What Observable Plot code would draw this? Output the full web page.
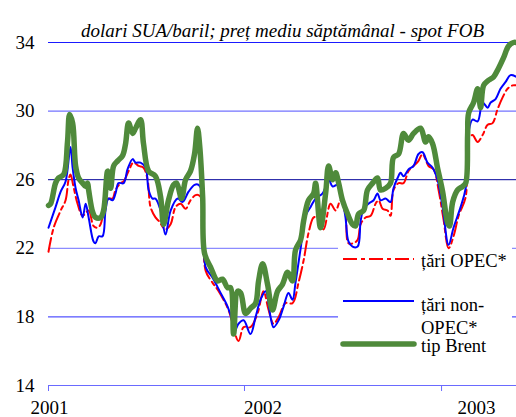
<!DOCTYPE html>
<html><head><meta charset="utf-8">
<script src="https://cdn.jsdelivr.net/npm/d3@7"></script>
<script src="https://cdn.jsdelivr.net/npm/@observablehq/plot@0.6"></script>
<style>
body{margin:0;background:#fff;}
#wrap{width:516px;height:417px;overflow:hidden;}
#wrap svg text{font-family:"Liberation Serif","Times New Roman",serif;}
</style></head><body><div id="wrap"></div>
<script>
const title = "dolari SUA/baril; preț mediu săptămânal - spot FOB";
const seriesNames = ["țări OPEC*", "țări non-OPEC*", "tip Brent"];
const legendLines = [["țări OPEC*"], ["țări non-", "OPEC*"], ["tip Brent"]];
const yTicks = [14, 18, 22, 26, 30, 34];
const yearLabels = [2001, 2002, 2003];
const axisTickMarks = [2000.995, 2001.913, 2002.836];

// [decimal year, USD/barrel]
const opec = [[2000.995,21.8],[2001.019,23.2],[2001.052,24.2],[2001.075,24.8],[2001.089,26.0],[2001.098,26.3],[2001.112,25.6],[2001.131,24.6],[2001.155,23.9],[2001.183,24.2],[2001.206,23.3],[2001.225,23.2],[2001.239,23.4],[2001.262,24.6],[2001.276,24.9],[2001.295,24.9],[2001.309,25.4],[2001.333,25.8],[2001.347,25.9],[2001.370,26.5],[2001.393,27.0],[2001.417,26.8],[2001.440,26.7],[2001.459,26.0],[2001.473,24.4],[2001.496,23.8],[2001.511,23.6],[2001.543,23.1],[2001.567,23.4],[2001.590,24.4],[2001.614,24.6],[2001.637,24.3],[2001.660,24.8],[2001.684,25.1],[2001.698,25.1],[2001.712,24.9],[2001.731,20.7],[2001.763,20.0],[2001.792,19.5],[2001.838,18.4],[2001.885,16.6],[2001.909,17.4],[2001.941,17.4],[2001.974,18.2],[2002.002,19.5],[2002.026,18.4],[2002.049,17.6],[2002.073,18.0],[2002.105,18.8],[2002.138,18.8],[2002.166,20.0],[2002.190,21.3],[2002.213,22.9],[2002.237,23.8],[2002.255,23.8],[2002.283,23.1],[2002.316,24.6],[2002.340,24.2],[2002.363,24.8],[2002.386,24.0],[2002.400,22.3],[2002.424,22.3],[2002.443,22.5],[2002.457,23.4],[2002.480,23.8],[2002.504,23.9],[2002.527,24.6],[2002.541,24.8],[2002.560,24.3],[2002.583,24.2],[2002.597,23.9],[2002.611,25.4],[2002.635,25.8],[2002.658,25.8],[2002.681,26.5],[2002.705,26.8],[2002.728,27.1],[2002.747,27.5],[2002.775,26.8],[2002.799,26.6],[2002.822,25.4],[2002.845,23.7],[2002.869,22.0],[2002.892,22.7],[2002.916,23.9],[2002.949,25.0],[2002.963,28.4],[2002.981,28.6],[2003.005,28.2],[2003.028,28.6],[2003.052,29.2],[2003.075,29.3],[2003.098,30.1],[2003.122,30.8],[2003.145,31.3],[2003.169,31.5],[2003.187,31.5]];

const nonOpec = [[2000.995,23.2],[2001.028,24.4],[2001.052,25.3],[2001.075,25.9],[2001.098,27.9],[2001.108,26.7],[2001.122,25.5],[2001.136,24.8],[2001.155,23.8],[2001.169,24.6],[2001.183,23.8],[2001.206,22.4],[2001.215,22.3],[2001.230,22.7],[2001.248,22.7],[2001.262,24.2],[2001.276,24.9],[2001.295,24.8],[2001.309,25.2],[2001.323,25.8],[2001.347,25.8],[2001.365,26.6],[2001.389,27.2],[2001.403,27.0],[2001.426,27.0],[2001.450,26.7],[2001.464,25.4],[2001.482,24.9],[2001.496,24.9],[2001.520,24.2],[2001.543,22.8],[2001.567,24.2],[2001.600,24.9],[2001.623,24.7],[2001.651,25.3],[2001.679,25.7],[2001.698,25.7],[2001.717,25.2],[2001.731,20.9],[2001.763,20.3],[2001.801,19.4],[2001.834,18.6],[2001.857,17.7],[2001.862,17.0],[2001.885,17.6],[2001.909,17.8],[2001.941,17.0],[2001.965,18.0],[2001.988,19.0],[2002.012,19.5],[2002.035,18.0],[2002.049,17.4],[2002.073,17.8],[2002.096,18.6],[2002.119,19.4],[2002.138,19.0],[2002.152,20.0],[2002.176,22.0],[2002.199,23.9],[2002.222,24.4],[2002.246,24.9],[2002.279,25.2],[2002.307,26.0],[2002.326,25.6],[2002.349,25.7],[2002.372,24.8],[2002.386,23.8],[2002.400,22.4],[2002.419,22.1],[2002.443,22.1],[2002.457,23.6],[2002.471,24.3],[2002.494,24.6],[2002.518,24.8],[2002.536,25.2],[2002.550,24.8],[2002.574,24.9],[2002.597,24.7],[2002.611,25.5],[2002.630,26.1],[2002.644,26.4],[2002.658,26.2],[2002.681,26.6],[2002.705,26.8],[2002.728,27.5],[2002.747,27.6],[2002.770,27.0],[2002.794,26.7],[2002.817,26.0],[2002.841,24.4],[2002.869,22.2],[2002.892,23.2],[2002.925,24.4],[2002.949,25.5],[2002.963,28.8],[2002.981,29.5],[2003.005,29.4],[2003.028,30.5],[2003.052,30.2],[2003.066,30.5],[2003.089,30.7],[2003.112,31.3],[2003.136,31.7],[2003.159,32.1],[2003.187,32.0]];

const brent = [[2000.995,24.5],[2001.005,24.6],[2001.028,25.8],[2001.042,26.1],[2001.066,26.3],[2001.084,28.2],[2001.094,29.8],[2001.108,29.3],[2001.122,26.8],[2001.136,26.1],[2001.155,25.8],[2001.169,25.6],[2001.178,25.8],[2001.183,25.4],[2001.202,24.1],[2001.215,23.8],[2001.239,23.8],[2001.253,24.2],[2001.272,26.5],[2001.286,25.5],[2001.300,26.8],[2001.319,27.1],[2001.342,27.4],[2001.356,28.1],[2001.370,29.3],[2001.389,28.7],[2001.403,29.0],[2001.426,29.5],[2001.440,28.1],[2001.464,26.5],[2001.496,26.2],[2001.520,25.0],[2001.534,23.4],[2001.557,24.8],[2001.581,25.7],[2001.595,25.8],[2001.618,24.9],[2001.637,26.0],[2001.660,26.5],[2001.679,27.5],[2001.693,29.0],[2001.703,28.0],[2001.717,25.0],[2001.726,21.7],[2001.754,20.9],[2001.787,20.1],[2001.810,20.2],[2001.834,19.7],[2001.848,19.7],[2001.862,17.0],[2001.881,19.5],[2001.895,19.4],[2001.918,18.2],[2001.941,18.5],[2001.965,18.8],[2001.979,20.1],[2001.998,21.1],[2002.021,19.9],[2002.044,18.4],[2002.068,19.5],[2002.091,19.9],[2002.115,20.6],[2002.138,20.1],[2002.152,21.9],[2002.176,22.5],[2002.190,23.6],[2002.213,24.8],[2002.237,25.2],[2002.246,25.8],[2002.269,23.2],[2002.293,25.2],[2002.307,26.8],[2002.326,26.0],[2002.340,26.4],[2002.354,25.8],[2002.372,24.8],[2002.396,24.0],[2002.419,23.4],[2002.433,23.3],[2002.447,24.0],[2002.471,24.2],[2002.489,25.4],[2002.513,25.8],[2002.536,26.1],[2002.550,25.4],[2002.574,25.5],[2002.597,25.8],[2002.611,27.3],[2002.635,27.5],[2002.658,28.7],[2002.681,28.3],[2002.705,28.7],[2002.738,29.0],[2002.761,28.2],[2002.775,28.5],[2002.794,28.1],[2002.817,26.7],[2002.841,25.3],[2002.864,23.5],[2002.873,23.3],[2002.888,24.7],[2002.911,25.4],[2002.934,25.6],[2002.949,25.8],[2002.958,28.6],[2002.963,29.9],[2002.986,30.5],[2003.005,31.3],[2003.019,30.2],[2003.033,31.5],[2003.056,31.8],[2003.080,32.0],[2003.103,32.5],[2003.126,33.1],[2003.150,33.8],[2003.173,34.0],[2003.187,34.0]];

const toRows = (arr) => arr.map(([t, v]) => ({t, v}));

// styles
const gridStroke = ["#6a6aff", "#2a2aff", "#7070ff", "#000099", "#5050ff", "#1a1aff"];
const colors = ["#ff0000", "#0000ff", "#4f8a3b"];
const widths = [2, 2, 5.5];
const dashes = ["14,4,4,4", null, null];
const W = 516, H = 417, ML = 48, MR = 0, MT = 42, MB = 32;
const serif = "Liberation Serif, Times New Roman, serif";

function legendMark() {
  const left = W - MR - 178, top = H - MB - 139;
  const g = d3.create("svg:g").attr("transform", `translate(${left},${top})`);
  g.append("rect").attr("width", 174).attr("height", 114).attr("fill", "#fff");
  const lineY = [13, 55, 98];
  const baseY = [[21], [65, 88], [106]];
  seriesNames.forEach((name, i) => {
    g.append("line").attr("x1", 5).attr("x2", 76).attr("y1", lineY[i]).attr("y2", lineY[i])
      .attr("stroke", colors[i]).attr("stroke-width", widths[i])
      .attr("stroke-dasharray", dashes[i]).attr("stroke-linecap", i === 2 ? "round" : "butt");
    legendLines[i].forEach((txt, j) => {
      g.append("text").attr("x", 83).attr("y", baseY[i][j])
        .attr("text-anchor", "start").attr("dominant-baseline", "alphabetic")
        .attr("font-size", 18.5).attr("fill", "#000").text(txt);
    });
  });
  return g.node();
}

const plot = Plot.plot({
  width: W, height: H,
  marginLeft: ML, marginRight: MR, marginTop: MT, marginBottom: MB,
  x: {type: "linear", domain: [2000.995, 2003.187], label: null},
  y: {domain: [14, 34], label: null},
  color: {type: "identity"},
  style: {fontFamily: serif, fontSize: "19px", color: "#000", background: "#fff", overflow: "visible"},
  marks: [
    Plot.ruleY(yTicks, {y: d => d, stroke: (d, i) => gridStroke[i], strokeWidth: 1}),
    legendMark,
    Plot.line(toRows(opec), {x: "t", y: "v", stroke: colors[0], strokeWidth: widths[0], strokeDasharray: dashes[0], curve: "catmull-rom"}),
    Plot.line(toRows(nonOpec), {x: "t", y: "v", stroke: colors[1], strokeWidth: widths[1], curve: "catmull-rom"}),
    Plot.line(toRows(brent), {x: "t", y: "v", stroke: colors[2], strokeWidth: widths[2], curve: "catmull-rom", strokeLinejoin: "round"}),
    Plot.axisY(yTicks, {tickSize: 0, tickPadding: 14, fontSize: 19, fontFamily: serif, label: null}),
    Plot.axisX(axisTickMarks, {tickSize: 6, tickFormat: () => "", stroke: "#6a6aff", label: null}),
    Plot.axisX(yearLabels, {tickSize: 0, tickPadding: 15, fontSize: 19, fontFamily: serif, tickFormat: d => String(d), label: null}),
    Plot.text([title], {frameAnchor: "top", dy: -19, fontStyle: "italic", fontSize: 19, fontFamily: serif, fill: "#000"})
  ]
});
document.getElementById("wrap").appendChild(plot);
</script>
</body></html>
